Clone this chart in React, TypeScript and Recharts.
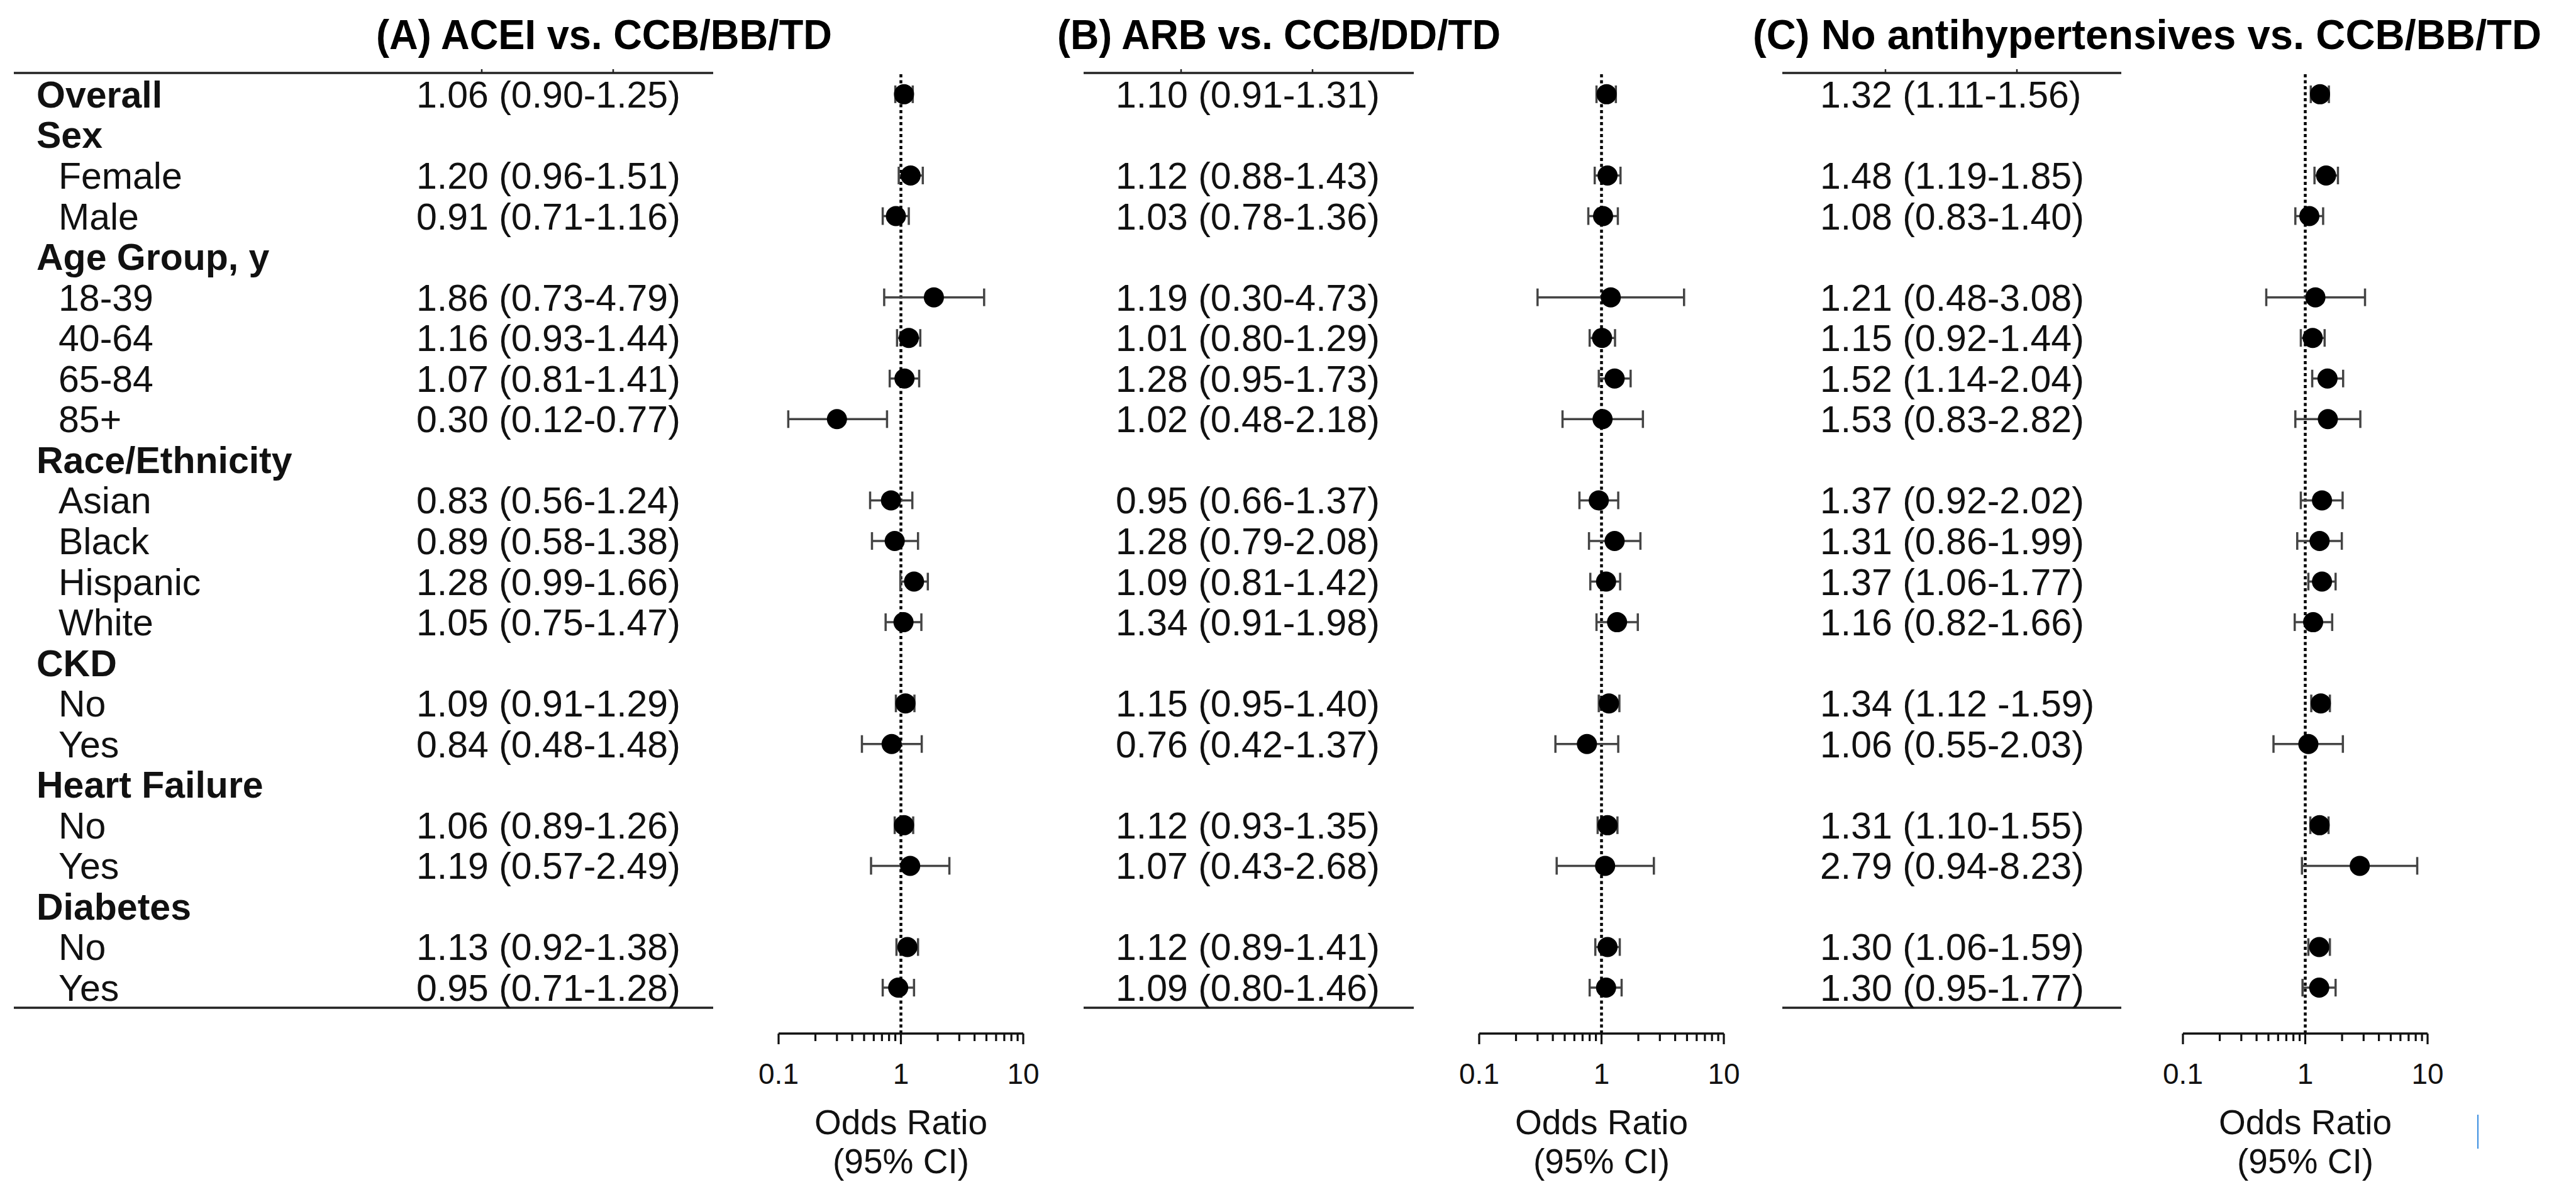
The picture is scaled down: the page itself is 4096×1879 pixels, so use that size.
import React from 'react';
import { ScatterChart, Scatter, XAxis, YAxis, ErrorBar, ReferenceLine } from 'recharts';

const FONT = '"Liberation Sans", Arial, Helvetica, sans-serif';
const INK = '#111';

// table rows, top to bottom
const ROW_LABELS = [
    'Overall', 'Sex', 'Female', 'Male', 'Age Group, y', '18-39', '40-64', '65-84', '85+',
    'Race/Ethnicity', 'Asian', 'Black', 'Hispanic', 'White', 'CKD', 'No', 'Yes',
    'Heart Failure', 'No', 'Yes', 'Diabetes', 'No', 'Yes',
];
const HEADER_ROWS = [1, 4, 9, 14, 17, 20];

// (A) ACEI vs. CCB/BB/TD
const ACEI_OR = [1.06, 1.20, 0.91, 1.86, 1.16, 1.07, 0.30, 0.83, 0.89, 1.28, 1.05, 1.09, 0.84, 1.06, 1.19, 1.13, 0.95];
const ACEI_LO = [0.90, 0.96, 0.71, 0.73, 0.93, 0.81, 0.12, 0.56, 0.58, 0.99, 0.75, 0.91, 0.48, 0.89, 0.57, 0.92, 0.71];
const ACEI_HI = [1.25, 1.51, 1.16, 4.79, 1.44, 1.41, 0.77, 1.24, 1.38, 1.66, 1.47, 1.29, 1.48, 1.26, 2.49, 1.38, 1.28];

// (B) ARB vs. CCB/DD/TD
const ARB_OR = [1.10, 1.12, 1.03, 1.19, 1.01, 1.28, 1.02, 0.95, 1.28, 1.09, 1.34, 1.15, 0.76, 1.12, 1.07, 1.12, 1.09];
const ARB_LO = [0.91, 0.88, 0.78, 0.30, 0.80, 0.95, 0.48, 0.66, 0.79, 0.81, 0.91, 0.95, 0.42, 0.93, 0.43, 0.89, 0.80];
const ARB_HI = [1.31, 1.43, 1.36, 4.73, 1.29, 1.73, 2.18, 1.37, 2.08, 1.42, 1.98, 1.40, 1.37, 1.35, 2.68, 1.41, 1.46];

// (C) No antihypertensives vs. CCB/BB/TD
const NONE_OR = [1.32, 1.48, 1.08, 1.21, 1.15, 1.52, 1.53, 1.37, 1.31, 1.37, 1.16, 1.34, 1.06, 1.31, 2.79, 1.30, 1.30];
const NONE_LO = [1.11, 1.19, 0.83, 0.48, 0.92, 1.14, 0.83, 0.92, 0.86, 1.06, 0.82, 1.12, 0.55, 1.10, 0.94, 1.06, 0.95];
const NONE_HI = [1.56, 1.85, 1.40, 3.08, 1.44, 2.04, 2.82, 2.02, 1.99, 1.77, 1.66, 1.59, 2.03, 1.55, 8.23, 1.59, 1.77];
const NONE_SPACED = [11]; // "1.34 (1.12 -1.59)" is typed with a space

const X_TICKS = [0.1, 0.2, 0.3, 0.4, 0.5, 0.6, 0.7, 0.8, 0.9, 1, 2, 3, 4, 5, 6, 7, 8, 9, 10];
const X_LABELS: Record<string, string> = { '0.1': '0.1', '1': '1', '10': '10' };
const ROW_TICKS = ROW_LABELS.map((_, i) => i + 1);

const TITLES = [
    '(A) ACEI vs. CCB/BB/TD',
    '(B) ARB vs. CCB/DD/TD',
    '(C) No antihypertensives vs. CCB/BB/TD',
];

function buildRows(or: number[], lo: number[], hi: number[], spaced: number[] = []) {
    let k = 0;
    return ROW_LABELS.map((label, i) => {
        if (HEADER_ROWS.includes(i)) return { row: i + 1, label, header: true } as any;
        const j = k++;
        const sep = spaced.includes(j) ? ' -' : '-';
        return {
            row: i + 1, label, header: false,
            or: or[j], err: [or[j] - lo[j], hi[j] - or[j]],
            text: `${or[j].toFixed(2)} (${lo[j].toFixed(2)}${sep}${hi[j].toFixed(2)})`,
        };
    });
}

const H = 1879;
const PLOT_W = 389;
const TOP = 115;
const AXIS_H = 236;

const PANELS = [
    { title: TITLES[0], rows: buildRows(ACEI_OR, ACEI_LO, ACEI_HI), left: 0, plotLeft: 1238, labels: true,
      textX: 662, ruleFrom: 22, ruleTo: 1134, titleX: 598, titleW: 725 },
    { title: TITLES[1], rows: buildRows(ARB_OR, ARB_LO, ARB_HI), left: 1650, plotLeft: 2352, labels: false,
      textX: 1774, ruleFrom: 1723, ruleTo: 2248, titleX: 1681, titleW: 705 },
    { title: TITLES[2], rows: buildRows(NONE_OR, NONE_LO, NONE_HI, NONE_SPACED), left: 2800, plotLeft: 3471, labels: false,
      textX: 2894, ruleFrom: 2834, ruleTo: 3373, titleX: 2787, titleW: 1254 },
];

const RowTick = ({ y, payload, panel }: any) => {
    const r = panel.rows[payload.value - 1];
    if (!r) return null;
    const base = y + 21;
    const bold = r.header || r.row === 1;
    return (
        <g fontFamily={FONT} fontSize={59} fill={INK}>
            {panel.labels && (
                <text x={(bold ? 58 : 93) - panel.left} y={base} fontWeight={bold ? 700 : 400}>{r.label}</text>
            )}
            {r.text && <text x={panel.textX - panel.left} y={base}>{r.text}</text>}
        </g>
    );
};

const OddsTick = ({ x, y, payload }: any) => {
    const label = X_LABELS[String(payload.value)];
    return (
        <g>
            <line x1={x} x2={x} y1={y} y2={y + (label ? 17 : 12)} stroke={INK} strokeWidth={3.2} />
            {label && (
                <text x={x} y={y + 80} textAnchor="middle" fontFamily={FONT} fontSize={46} fill={INK}>{label}</text>
            )}
        </g>
    );
};

const AxisTitle = ({ viewBox }: any) => {
    const cx = viewBox.x + viewBox.width / 2;
    return (
        <g fontFamily={FONT} fontSize={55} fill={INK} textAnchor="middle">
            <text x={cx} y={viewBox.y + 160}>Odds Ratio</text>
            <text x={cx} y={viewBox.y + 222}>(95% CI)</text>
        </g>
    );
};

const Dot = (props: any) => <circle cx={props.cx} cy={props.cy} r={16} fill="#000" />;

const ForestPanel = ({ panel }: any) => {
    const yWidth = panel.plotLeft - panel.left;
    const width = yWidth + PLOT_W + 30;
    const data = panel.rows.filter((r: any) => !r.header);
    return (
        <div style={{ position: 'absolute', left: panel.left, top: 0 }}>
            <ScatterChart width={width} height={H} margin={{ top: TOP, right: 30, bottom: 0, left: 0 }}>
                <XAxis
                    type="number" dataKey="or" scale="log" domain={[0.1, 10]} allowDataOverflow
                    ticks={X_TICKS} interval={0} height={AXIS_H}
                    axisLine={{ stroke: INK, strokeWidth: 3.5 }} tickLine={false} tickSize={0} tickMargin={0}
                    tick={<OddsTick />} label={{ content: (p: any) => <AxisTitle {...p} /> }}
                />
                <YAxis
                    type="number" dataKey="row" domain={[0.46, 24.13]} reversed allowDataOverflow
                    ticks={ROW_TICKS} interval={0} width={yWidth}
                    axisLine={false} tickLine={false}
                    tick={(p: any) => <RowTick {...p} panel={panel} />}
                />
                <ReferenceLine x={1} stroke="#000" strokeWidth={4.5} strokeDasharray="5 4.5" />
                <Scatter data={data} shape={<Dot />} isAnimationActive={false}>
                    <ErrorBar dataKey="err" direction="x" width={14} stroke="#444" strokeWidth={3.5} />
                </Scatter>
            </ScatterChart>
        </div>
    );
};

export default function App() {
    return (
        <div style={{ position: 'absolute', left: 0, top: 0, width: 4096, height: H, background: '#fff', overflow: 'hidden' }}>
            <svg width={4096} height={H} style={{ position: 'absolute', left: 0, top: 0 }}>
                {PANELS.map((p, i) => (
                    <g key={i}>
                        <text x={p.titleX} y={78} fontFamily={FONT} fontSize={67} fontWeight={700} fill="#000"
                            textLength={p.titleW} lengthAdjust="spacingAndGlyphs">{p.title}</text>
                        <line x1={p.ruleFrom} x2={p.ruleTo} y1={116} y2={116} stroke="#222" strokeWidth={3.5} />
                        <line x1={p.ruleFrom} x2={p.ruleTo} y1={1602} y2={1602} stroke="#222" strokeWidth={3.5} />
                        <line x1={p.textX + 104} x2={p.textX + 104} y1={110} y2={116} stroke="#222" strokeWidth={2.5} />
                        <line x1={p.textX + 313} x2={p.textX + 313} y1={110} y2={116} stroke="#222" strokeWidth={2.5} />
                    </g>
                ))}
                <line x1={3940} x2={3940} y1={1772} y2={1826} stroke="#3b8ee0" strokeWidth={2} />
            </svg>
            {PANELS.map((p, i) => <ForestPanel key={i} panel={p} />)}
        </div>
    );
}
